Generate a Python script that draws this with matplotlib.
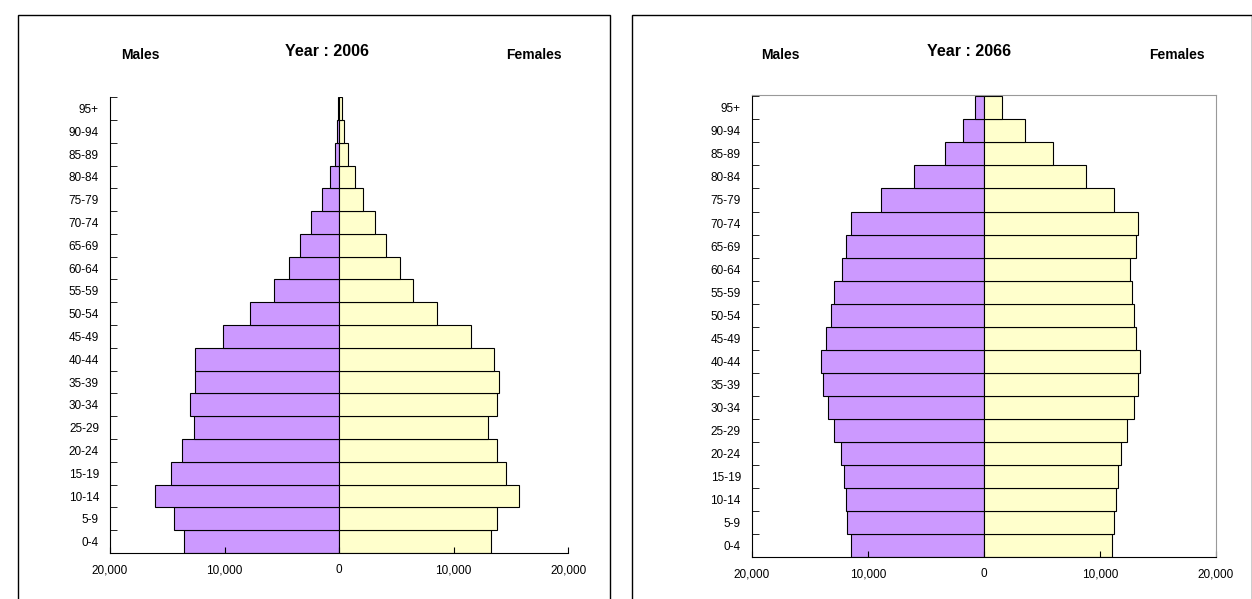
import numpy as np
import matplotlib.pyplot as plt
from matplotlib.patches import Rectangle
from matplotlib.ticker import FuncFormatter

plt.rcParams['font.family'] = ['Liberation Sans', 'DejaVu Sans']

age_groups = ['0-4', '5-9', '10-14', '15-19', '20-24', '25-29', '30-34', '35-39',
              '40-44', '45-49', '50-54', '55-59', '60-64', '65-69', '70-74',
              '75-79', '80-84', '85-89', '90-94', '95+']

males_2006 = [13560, 14430, 16090, 14700, 13740, 12700, 13040, 12600, 12600, 10170,
              7740, 5650, 4350, 3390, 2430, 1480, 780, 350, 170, 80]
females_2006 = [13220, 13740, 15740, 14600, 13740, 12960, 13740, 13910, 13480, 11480,
                8520, 6430, 5300, 4090, 3130, 2090, 1390, 780, 430, 260]

males_2066 = [11470, 11810, 11900, 12070, 12330, 12930, 13450, 13880, 14050, 13620,
              13190, 12930, 12240, 11900, 11470, 8880, 6030, 3360, 1810, 780]
females_2066 = [11030, 11210, 11380, 11550, 11810, 12330, 12930, 13280, 13450, 13100,
                12930, 12760, 12590, 13100, 13280, 11210, 8790, 5950, 3530, 1550]

fig = plt.figure(figsize=(12.52, 5.99), dpi=100)

panels = [
    ('2006', males_2006, females_2006, [0.0879, 0.0768, 0.366, 0.761],
     (0.0144, 0.487), (140, 327, 534), False),
    ('2066', males_2066, females_2066, [0.6006, 0.0701, 0.3706, 0.771],
     (0.505, 1.0), (780, 969, 1177), True),
]

y = np.arange(len(age_groups))
for year, males, females, pos, box, txt_x, grey_frame in panels:
    fig.patches.append(Rectangle((box[0], -0.01), box[1] - box[0], 0.985,
                                 transform=fig.transFigure, fill=False,
                                 edgecolor='black', linewidth=1))
    ax = fig.add_axes(pos)
    ax.barh(y, -np.array(males), height=1.0, color='#CC99FF', edgecolor='black', linewidth=0.8)
    ax.barh(y, females, height=1.0, color='#FFFFCC', edgecolor='black', linewidth=0.8)
    ax.set_xlim(-20000, 20000)
    ax.set_ylim(-0.5, len(age_groups) - 0.5 + (0.0 if year == '2006' else 0.05))
    ax.set_xticks([-20000, -10000, 0, 10000, 20000])
    ax.xaxis.set_major_formatter(FuncFormatter(lambda v, p: f'{abs(int(v)):,}'))
    ax.set_yticks(y)
    ax.set_yticklabels(age_groups)
    ax.set_yticks(np.arange(-0.5, len(age_groups)), minor=True)
    ax.tick_params(axis='y', which='major', length=0, labelsize=8.5, pad=8)
    ax.tick_params(axis='y', which='minor', length=5, direction='in')
    ax.tick_params(axis='x', length=4, direction='in', labelsize=8.5, pad=8)
    if grey_frame:
        ax.spines['top'].set_color('#999999')
        ax.spines['right'].set_color('#999999')
    else:
        ax.spines['top'].set_visible(False)
        ax.spines['right'].set_visible(False)
    W, H = 1252, 599
    fig.text(txt_x[0] / W, 1 - 55 / H, 'Males', ha='center', va='center',
             fontsize=10, fontweight='bold')
    fig.text(txt_x[1] / W, 1 - 52 / H, f'Year : {year}', ha='center', va='center',
             fontsize=11.5, fontweight='bold')
    fig.text(txt_x[2] / W, 1 - 55 / H, 'Females', ha='center', va='center',
             fontsize=10, fontweight='bold')

fig.savefig('out.png', dpi=100)
